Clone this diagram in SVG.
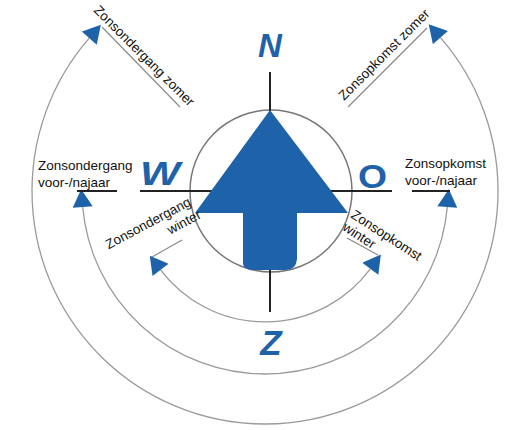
<svg xmlns="http://www.w3.org/2000/svg" width="505" height="430" viewBox="0 0 505 430">
<style>
.arc{fill:none;stroke:#9a9a9a;stroke-width:1.3;marker-start:url(#tri);marker-end:url(#tri)}
.lead{stroke:#8a8a8a;stroke-width:1.2}
.leadd{stroke:#222;stroke-width:2}
.cl{stroke:#222;stroke-width:2}
.lbl{font-family:"Liberation Sans",Arial,sans-serif;font-size:13.5px;fill:#111}
.dir{font-family:"Liberation Sans",Arial,sans-serif;font-size:33px;font-weight:bold;font-style:italic;fill:#1E62AA}
</style>
<defs>
<marker id="tri" markerUnits="userSpaceOnUse" markerWidth="20" markerHeight="20" viewBox="0 0 17 18" refX="0" refY="9" orient="auto-start-reverse">
<path d="M0,0 L16,9 L0,18 Z" fill="#1E62AA"/>
</marker>
</defs>
<g id="connectors">
<path class="arc" d="M89.2,38.1 A233,233 0 1 0 440.4,37.6"/>
<path class="arc" d="M82.7,207 A183,183 0 0 0 447.3,207"/>
<path class="arc" d="M160.5,269.9 A131,131 0 0 0 370.3,268.8"/>
<line class="lead" x1="102" y1="27" x2="180" y2="107"/>
<line class="lead" x1="348" y1="107" x2="427" y2="28"/>
<line class="leadd" x1="77" y1="191" x2="117" y2="191"/>
<line class="leadd" x1="412" y1="191" x2="450" y2="191"/>
<line class="lead" x1="152" y1="257" x2="182" y2="240"/>
<line class="lead" x1="347" y1="238" x2="378" y2="255"/>
</g>
<g id="compass">
<circle cx="271" cy="191" r="81" fill="#fff" stroke="#777" stroke-width="1.5"/>
<line class="cl" x1="140" y1="191" x2="392" y2="191"/>
<line class="cl" x1="270" y1="72" x2="270" y2="112"/>
<line class="cl" x1="270" y1="268" x2="270" y2="312"/>
<path d="M270,110 L348,213 L297,213 L297,259 Q296,270 286,270 L255,270 Q244,270 243,264 L243,213 L195,213 Z" fill="#1E62AA"/>
</g>
<g id="dir-N"><text class="dir" x="270" y="57" text-anchor="middle">N</text></g>
<g id="dir-W"><text class="dir" x="140" y="185" textLength="40" lengthAdjust="spacingAndGlyphs">W</text></g>
<g id="dir-O"><text class="dir" x="358" y="188" style="font-style:normal" textLength="29" lengthAdjust="spacingAndGlyphs">O</text></g>
<g id="dir-Z"><text class="dir" x="271" y="355" text-anchor="middle" style="font-size:35px">Z</text></g>
<g id="label-zomer-onder"><text class="lbl" transform="translate(93,11) rotate(45)">Zonsondergang zomer</text></g>
<g id="label-zomer-op"><text class="lbl" transform="translate(344,101) rotate(-45)">Zonsopkomst zomer</text></g>
<g id="label-voorjaar-onder"><text class="lbl" x="38" y="170">Zonsondergang</text><text class="lbl" x="38" y="187">voor-/najaar</text></g>
<g id="label-voorjaar-op"><text class="lbl" x="405" y="168">Zonsopkomst</text><text class="lbl" x="405" y="185">voor-/najaar</text></g>
<g id="label-winter-onder" transform="translate(192,205) rotate(-28)"><text class="lbl" x="0" y="0" text-anchor="end">Zonsondergang</text><text class="lbl" x="3" y="16" text-anchor="end">winter</text></g>
<g id="label-winter-op" transform="translate(350,217) rotate(33)"><text class="lbl" x="0" y="0">Zonsopkomst</text><text class="lbl" x="0" y="15">winter</text></g>
</svg>
